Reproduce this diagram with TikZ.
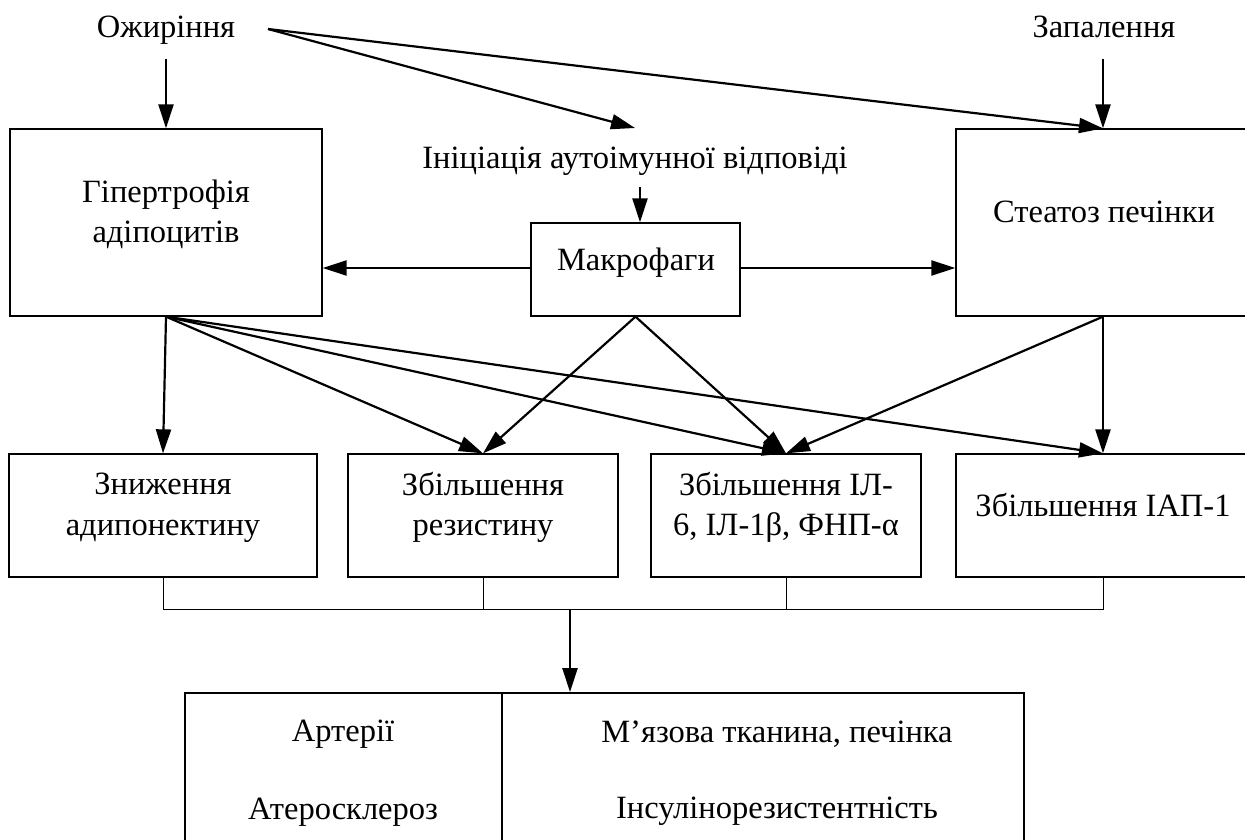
\documentclass[tikz,border=0pt]{standalone}
\usepackage{fontspec}
\setmainfont{Liberation Serif}
\usetikzlibrary{arrows.meta}
\begin{document}
\begin{tikzpicture}[x=1pt,y=-1pt,
  txt/.style={font=\fontsize{32.5}{40.5}\selectfont, inner sep=0pt, align=center},
  boxn/.style={draw, line width=1.3pt, inner sep=0pt, rectangle},
  tabcell/.style={draw, line width=1.8pt, inner sep=0pt, rectangle},
  arr/.style={line width=2.2pt, -{Triangle[length=24pt,width=15pt]}},
  brk/.style={line width=1pt}]
\clip (0,0) rectangle (1245,840);
% boxes
\node[boxn, minimum width=312pt, minimum height=187pt] (hyp) at (166,222.5) {};
\node[boxn, minimum width=209pt, minimum height=93pt] (mac) at (635.5,269.5) {};
\node[boxn, minimum width=294pt, minimum height=187pt] (steat) at (1103,222.5) {};
\node[boxn, minimum width=308pt, minimum height=123pt] (b1) at (163,515.5) {};
\node[boxn, minimum width=270pt, minimum height=123pt] (b2) at (483,515.5) {};
\node[boxn, minimum width=270pt, minimum height=123pt] (b3) at (786,515.5) {};
\node[boxn, minimum width=294pt, minimum height=123pt] (b4) at (1103,515.5) {};
\node[tabcell, minimum width=317pt, minimum height=167pt] (cellA) at (343.5,776.5) {};
\node[tabcell, minimum width=522pt, minimum height=167pt] (cellB) at (763,776.5) {};
% texts
\node[txt, anchor=base] (tozh) at (166,38) {Ожиріння};
\node[txt, anchor=base] (tzap) at (1104,38) {Запалення};
\node[txt, anchor=base] (tini) at (635,168) {Ініціація аутоімунної відповіді};
\node[txt, anchor=base] (tmac) at (636,270) {Макрофаги};
\node[txt, anchor=base] (tst) at (1104,222) {Стеатоз печінки};
\node[txt] (thyp) at (166,214.5) {Гіпертрофія\\адіпоцитів};
\node[txt] (tb1) at (163,507.5) {Зниження\\адипонектину};
\node[txt] (tb2) at (483,507.5) {Збільшення\\резистину};
\node[txt] (tb3) at (786,507.5) {Збільшення ІЛ-\\6, ІЛ-1β, ФНП-α};
\node[txt, anchor=base] (tb4) at (1103,516) {Збільшення ІАП-1};
\node[txt, anchor=base] (ta1) at (343,741) {Артерії};
\node[txt, anchor=base] (ta2) at (343,819) {Атеросклероз};
\node[txt, anchor=base] (tc1) at (777,742) {М’язова тканина, печінка};
\node[txt, anchor=base] (tc2) at (777,818) {Інсулінорезистентність};
% coordinates
\coordinate (ozhA) at (166,59);
\coordinate (ozhR) at (268,29);
\coordinate (iniT) at (635,128);
\coordinate (zapA) at (1103,59);
\coordinate (iniB) at (640,187);
\coordinate (bj) at (570,609);
% arrows
\draw[arr] (ozhA) -- (hyp.north);
\draw[arr] (ozhR) -- (iniT);
\draw[arr] (ozhR) -- (steat.north);
\draw[arr] (zapA) -- (steat.north);
\draw[arr] (iniB) -- (iniB |- mac.north);
\draw[arr] ([yshift=1.5pt]mac.west) -- ([yshift=1.5pt]mac.west -| hyp.east);
\draw[arr] ([yshift=1.5pt]mac.east) -- ([yshift=1.5pt]mac.east -| steat.west);
\draw[arr] (hyp.south) -- (b1.north);
\draw[arr] (hyp.south) -- (b2.north);
\draw[arr] (hyp.south) -- (b3.north);
\draw[arr] (hyp.south) -- (b4.north);
\draw[arr] (mac.south) -- (b2.north);
\draw[arr] (mac.south) -- (b3.north);
\draw[arr] (steat.south) -- (b3.north);
\draw[arr] (steat.south) -- (b4.north);
% bracket
\draw[brk] (b1.south) -- (b1.south |- bj) -- (b4.south |- bj) -- (b4.south);
\draw[brk] (b2.south) -- (b2.south |- bj);
\draw[brk] (b3.south) -- (b3.south |- bj);
\draw[arr] (bj) -- (bj |- cellB.north);
\end{tikzpicture}
\end{document}
